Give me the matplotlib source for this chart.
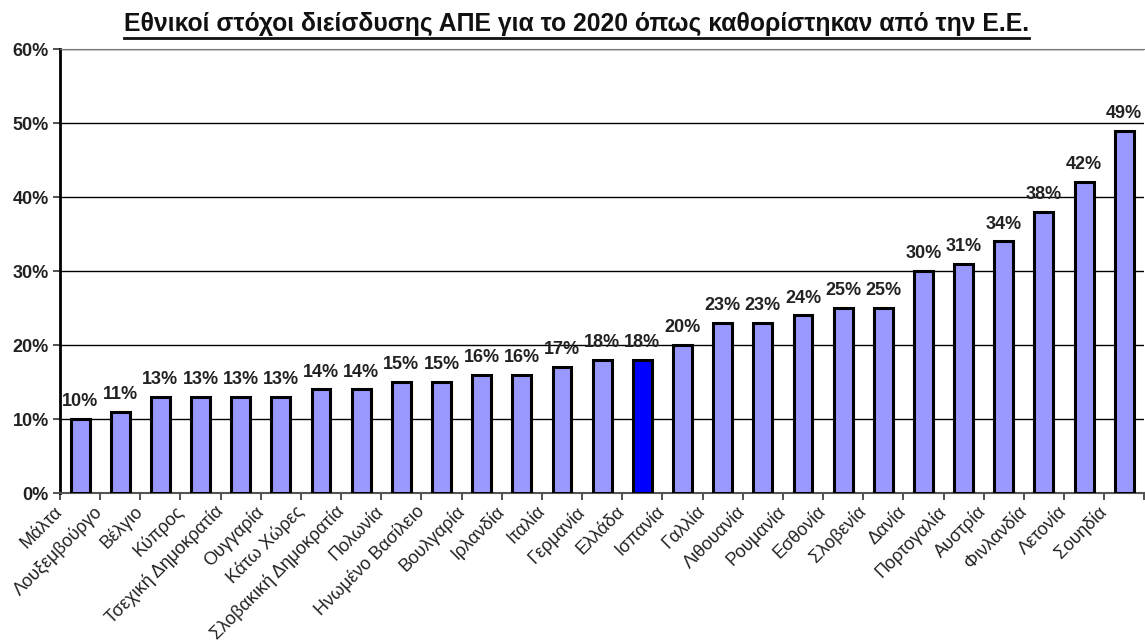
import matplotlib.pyplot as plt
import matplotlib.transforms as mtransforms
from matplotlib.lines import Line2D

plt.rcParams["font.family"] = ["Liberation Sans", "DejaVu Sans"]

countries = [
    "Μάλτα", "Λουξεμβούργο", "Βέλγιο", "Κύπρος", "Τσεχική Δημοκρατία",
    "Ουγγαρία", "Κάτω Χώρες", "Σλοβακική Δημοκρατία", "Πολωνία",
    "Ηνωμένο Βασίλειο", "Βουλγαρία", "Ιρλανδία", "Ιταλία", "Γερμανία",
    "Ελλάδα", "Ισπανία", "Γαλλία", "Λιθουανία", "Ρουμανία", "Εσθονία",
    "Σλοβενία", "Δανία", "Πορτογαλία", "Αυστρία", "Φινλανδία", "Λετονία",
    "Σουηδία",
]
targets = [10, 11, 13, 13, 13, 13, 14, 14, 15, 15, 16, 16, 17, 18, 18, 20,
           23, 23, 24, 25, 25, 30, 31, 34, 38, 42, 49]
highlight = "Ελλάδα"
y_ticks = [0, 10, 20, 30, 40, 50, 60]

fig = plt.figure(figsize=(11.45, 6.42), dpi=100)
ax = fig.add_axes([0.0524, 0.232, 0.947, 0.6915])

x = list(range(len(countries)))
colors = ["#0000FF" if c == highlight else "#9999FF" for c in countries]
ax.bar(x, targets, width=0.47, color=colors, edgecolor="black",
       linewidth=2.2, zorder=3)

for xi, v in zip(x, targets):
    ax.text(xi, v + 1.2, f"{v}%", ha="center", va="bottom",
            fontsize=13, fontweight="bold", color="#222222", zorder=4)

ax.set_xlim(-0.5, len(countries) - 0.5)
ax.set_ylim(0, 60)
ax.set_yticks(y_ticks)
ax.set_yticklabels([f"{t}%" for t in y_ticks], fontsize=13, fontweight="bold",
                   color="#222222")
ax.yaxis.grid(True, color="black", linewidth=1, zorder=0)

# category boundary ticks, labels placed separately
ax.set_xticks([i - 0.5 for i in range(len(countries) + 1)])
ax.set_xticklabels([])
ax.tick_params(axis="x", length=5, width=1.2, color="#333333", direction="out")
ax.tick_params(axis="y", length=5, width=1.2, color="#333333", pad=3)

offset = mtransforms.ScaledTranslation(-0.2, -0.16, fig.dpi_scale_trans)
for xi, name in zip(x, countries):
    ax.text(xi, 0, name, rotation=45, rotation_mode="anchor", ha="right",
            va="center", fontsize=13, color="#222222",
            transform=ax.transData + offset, clip_on=False)

ax.spines["left"].set_linewidth(2)
ax.spines["left"].set_color("black")
ax.spines["bottom"].set_linewidth(1.5)
ax.spines["bottom"].set_color("#555555")
ax.spines["top"].set_color("#777777")
ax.spines["right"].set_visible(False)

title = fig.text(0.5035, 0.963, "Εθνικοί στόχοι διείσδυσης ΑΠΕ για το 2020 όπως καθορίστηκαν από την Ε.Ε.",
                 ha="center", va="center", fontsize=17.8, fontweight="bold",
                 color="#111111")

# underline the title
fig.canvas.draw()
bb = title.get_window_extent().transformed(fig.transFigure.inverted())
fig.add_artist(Line2D([bb.x0, bb.x1], [bb.y0 - 0.003, bb.y0 - 0.003],
                      transform=fig.transFigure, color="#111111", linewidth=2))

plt.savefig("out.png", dpi=100)
plt.close(fig)
